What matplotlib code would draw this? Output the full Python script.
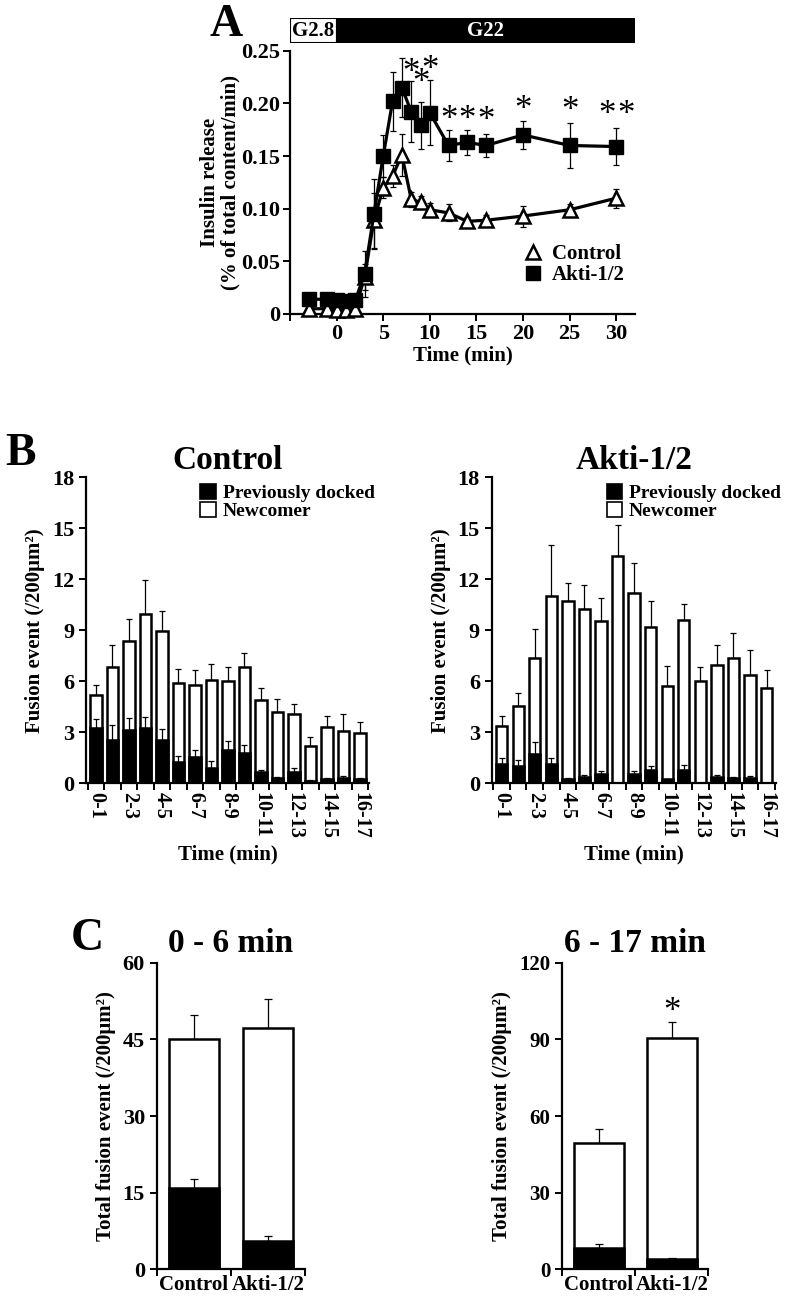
import numpy as np
import matplotlib.pyplot as plt
from matplotlib.lines import Line2D
from matplotlib.patches import Patch

plt.rcParams['font.family'] = ['Liberation Serif', 'DejaVu Serif']
plt.rcParams['font.weight'] = 'bold'
plt.rcParams['axes.titleweight'] = 'bold'
plt.rcParams['axes.labelweight'] = 'bold'
plt.rcParams['axes.linewidth'] = 1.6
plt.rcParams['xtick.major.width'] = 1.4
plt.rcParams['ytick.major.width'] = 1.4
plt.rcParams['xtick.direction'] = 'out'
plt.rcParams['ytick.direction'] = 'out'

# ---- panel A : insulin release ----
a_time = [-3, -1, 0, 1, 2, 3, 4, 5, 6, 7, 8, 9, 10, 12, 14, 16, 20, 25, 30]
a_ctrl = [0.005, 0.005, 0.004, 0.004, 0.005, 0.035, 0.089, 0.120, 0.131, 0.151,
          0.109, 0.106, 0.099, 0.096, 0.088, 0.089, 0.093, 0.099, 0.110]
a_ctrl_err = [0.002, 0.002, 0.002, 0.002, 0.002, 0.012, 0.026, 0.010, 0.010, 0.020,
              0.007, 0.006, 0.006, 0.008, 0.004, 0.005, 0.010, 0.005, 0.009]
a_akti = [0.014, 0.014, 0.013, 0.012, 0.013, 0.038, 0.095, 0.150, 0.202, 0.215,
          0.192, 0.179, 0.191, 0.160, 0.163, 0.160, 0.170, 0.160, 0.159]
a_akti_err = [0.003, 0.003, 0.003, 0.003, 0.003, 0.022, 0.033, 0.020, 0.028, 0.028,
              0.029, 0.022, 0.031, 0.015, 0.012, 0.011, 0.013, 0.021, 0.018]
a_star_x = [8, 9, 10, 12, 14, 16, 20, 25, 29, 31]
a_star_y = [0.235, 0.225, 0.238, 0.1905, 0.1905, 0.189, 0.200, 0.199, 0.195, 0.195]
a_xticks = [-5, 0, 5, 10, 15, 20, 25, 30]
a_xticklabels = ['', '0', '5', '10', '15', '20', '25', '30']
a_yticks = [0, 0.05, 0.10, 0.15, 0.20, 0.25]
a_yticklabels = ['0', '0.05', '0.10', '0.15', '0.20', '0.25']
phase_names = ['G2.8', 'G22']
phase_start = [-5, 0]
phase_end = [0, 32]

# ---- panel B : fusion events per minute ----
b_bins = ['0-1', '1-2', '2-3', '3-4', '4-5', '5-6', '6-7', '7-8', '8-9', '9-10',
          '10-11', '11-12', '12-13', '13-14', '14-15', '15-16', '16-17']
b_ctrl_total = [5.2, 6.86, 8.37, 9.96, 8.96, 5.92, 5.76, 6.08, 6.04, 6.84,
                4.90, 4.18, 4.08, 2.22, 3.29, 3.10, 2.98]
b_ctrl_total_err = [0.6, 1.3, 1.3, 2.0, 1.2, 0.8, 0.9, 0.95, 0.8, 0.85,
                    0.7, 0.8, 0.6, 0.5, 0.65, 1.0, 0.6]
b_ctrl_docked = [3.24, 2.55, 3.14, 3.27, 2.55, 1.27, 1.57, 0.92, 1.96, 1.80,
                 0.65, 0.33, 0.65, 0.14, 0.27, 0.31, 0.24]
b_ctrl_docked_err = [0.57, 0.9, 0.7, 0.63, 0.63, 0.33, 0.4, 0.4, 0.55, 0.45,
                     0.13, 0.05, 0.23, 0.03, 0.05, 0.1, 0.05]
b_akti_total = [3.39, 4.55, 7.37, 11.04, 10.73, 10.25, 9.53, 13.35, 11.18, 9.22,
                5.75, 9.59, 6.04, 6.96, 7.37, 6.37, 5.63]
b_akti_total_err = [0.57, 0.75, 1.7, 2.96, 1.05, 1.43, 1.37, 1.87, 1.78, 1.5,
                    1.15, 0.96, 0.82, 1.2, 1.47, 1.47, 1.02]
b_akti_docked = [1.12, 1.02, 1.73, 1.12, 0.24, 0.39, 0.53, 0.0, 0.53, 0.78,
                 0.23, 0.78, 0.0, 0.39, 0.29, 0.29, 0.02]
b_akti_docked_err = [0.35, 0.35, 0.68, 0.37, 0.05, 0.08, 0.2, 0.0, 0.2, 0.22,
                     0.05, 0.3, 0.0, 0.1, 0.1, 0.12, 0.02]
b_yticks = [0, 3, 6, 9, 12, 15, 18]

# ---- panel C : totals ----
c_groups = ['Control', 'Akti-1/2']
c_early_total = [45.1, 47.3]
c_early_total_err = [4.6, 5.5]
c_early_docked = [16.0, 5.54]
c_early_docked_err = [1.7, 1.0]
c_late_total = [49.4, 90.6]
c_late_total_err = [5.5, 6.3]
c_late_docked = [8.5, 3.9]
c_late_docked_err = [1.3, 0.4]
c_late_star = [1]
c_late_star_y = [103.4]

W, H = 787, 1300
fig = plt.figure(figsize=(W / 100, H / 100), dpi=100)


def box(l, t, r, b):
    # pixel box -> figure fraction
    return [l / W, 1 - b / H, (r - l) / W, (b - t) / H]


def clean(ax):
    ax.spines['top'].set_visible(False)
    ax.spines['right'].set_visible(False)


def star(ax, x, y):
    # glyph sits high in its box, nudge it down a bit
    ax.annotate('*', (x, y), xytext=(0, -5), textcoords='offset points',
                fontsize=25, fontweight='normal', ha='center', va='center', zorder=5)


# ================= A =================
axA = fig.add_axes(box(290, 50.7, 635, 314))
clean(axA)
axA.errorbar(a_time, a_ctrl, yerr=a_ctrl_err, fmt='none', ecolor='black',
             elinewidth=0.9, capsize=2.5, capthick=0.9, zorder=2)
axA.errorbar(a_time, a_akti, yerr=a_akti_err, fmt='none', ecolor='black',
             elinewidth=0.9, capsize=2.5, capthick=0.9, zorder=2)
axA.plot(a_time, a_ctrl, color='black', lw=2.3, marker='^', ms=10,
         mfc='white', mec='black', mew=1.8, zorder=3, clip_on=False)
axA.plot(a_time, a_akti, color='black', lw=2.3, marker='s', ms=10.5,
         mfc='black', mec='black', zorder=4, clip_on=False)
for x, y in zip(a_star_x, a_star_y):
    star(axA, x, y)
axA.set_xlim(-5, 32)
axA.set_ylim(0, 0.25)
axA.set_xticks(a_xticks)
axA.set_xticklabels(a_xticklabels, fontsize=16)
axA.set_yticks(a_yticks)
axA.set_yticklabels(a_yticklabels, fontsize=16)
axA.tick_params(length=5, pad=2)
axA.set_xlabel('Time (min)', fontsize=15, labelpad=1)
fig.text(210 / W, 1 - 182 / H, 'Insulin release', rotation=90, fontsize=15,
         ha='center', va='center')
fig.text(230 / W, 1 - 182 / H, '(% of total content/min)', rotation=90,
         fontsize=15, ha='center', va='center')
hA = [Line2D([], [], ls='none', marker='^', ms=10, mfc='white', mec='black', mew=1.8),
      Line2D([], [], ls='none', marker='s', ms=10.5, mfc='black', mec='black')]
axA.legend(hA, ['Control', 'Akti-1/2'], loc='lower right', bbox_to_anchor=(1.0, 0.07),
           frameon=False, fontsize=15, handlelength=1.0, handletextpad=0.4,
           labelspacing=0.05, borderpad=0)

axG = fig.add_axes(box(290, 18, 635, 43))
axG.set_xlim(-5, 32)
axG.set_ylim(0, 1)
axG.axis('off')
for i, (name, s, e) in enumerate(zip(phase_names, phase_start, phase_end)):
    fc = 'white' if i == 0 else 'black'
    tc = 'black' if i == 0 else 'white'
    axG.barh(0.5, e - s, left=s, height=1, color=fc, edgecolor='black', lw=1.5)
    axG.text((s + e) / 2, 0.5, name, color=tc, fontsize=15, ha='center', va='center')

fig.text(226 / W, 1 - 25 / H, 'A', fontsize=33, ha='center', va='center')


# ================= B =================
def fusion_panel(ax, title, total, total_err, docked, docked_err):
    clean(ax)
    x = np.arange(len(b_bins))
    ax.bar(x, total, width=0.68, color='white', edgecolor='black', lw=1.8, zorder=2)
    ax.bar(x, docked, width=0.68, color='black', edgecolor='black', lw=1.8, zorder=3)
    ax.errorbar(x, total, yerr=[np.zeros(len(x)), total_err], fmt='none',
                ecolor='black', elinewidth=0.9, capsize=2.5, capthick=0.9, zorder=1)
    ax.errorbar(x, docked, yerr=[np.zeros(len(x)), docked_err], fmt='none',
                ecolor='black', elinewidth=0.9, capsize=2.5, capthick=0.9, zorder=2.5)
    ax.set_xlim(-0.6, 16.55)
    ax.set_ylim(0, 18)
    ax.set_yticks(b_yticks)
    ax.set_yticklabels([str(v) for v in b_yticks], fontsize=16)
    ax.set_xticks(np.arange(-0.5, 17.0, 1.0))
    ax.set_xticklabels([])
    ax.set_xticks(x[::2], minor=True)
    ax.set_xticklabels(b_bins[::2], minor=True, rotation=-90, fontsize=14.5, va='top')
    ax.tick_params(axis='x', which='minor', length=0, pad=6)
    ax.tick_params(axis='both', which='major', length=5)
    ax.set_xlabel('Time (min)', fontsize=15, labelpad=4)
    ax.set_ylabel('Fusion event (/200μm²)', fontsize=15, labelpad=5)
    ax.set_title(title, fontsize=24, pad=6)
    hB = [Patch(facecolor='black', edgecolor='black', lw=1.2),
          Patch(facecolor='white', edgecolor='black', lw=1.2)]
    ax.legend(hB, ['Previously docked', 'Newcomer'], loc='upper left',
              bbox_to_anchor=(0.37, 1.01), frameon=False, fontsize=14,
              handlelength=0.8, handleheight=0.8, handletextpad=0.35,
              labelspacing=0.0, borderpad=0)


axB1 = fig.add_axes(box(86, 477.3, 369, 783.3))
fusion_panel(axB1, 'Control', b_ctrl_total, b_ctrl_total_err,
             b_ctrl_docked, b_ctrl_docked_err)
axB2 = fig.add_axes(box(491.7, 477.3, 775.7, 783.3))
fusion_panel(axB2, 'Akti-1/2', b_akti_total, b_akti_total_err,
             b_akti_docked, b_akti_docked_err)
fig.text(20 / W, 1 - 454 / H, 'B', fontsize=33, ha='center', va='center')


# ================= C =================
def total_panel(ax, title, total, total_err, docked, docked_err, ymax, star_idx, star_y, tfs):
    clean(ax)
    x = np.arange(len(c_groups)) + 0.5
    ax.bar(x, total, width=0.68, color='white', edgecolor='black', lw=1.8, zorder=2)
    ax.bar(x, docked, width=0.68, color='black', edgecolor='black', lw=1.8, zorder=3)
    ax.errorbar(x, total, yerr=[np.zeros(len(x)), total_err], fmt='none',
                ecolor='black', elinewidth=0.9, capsize=3, capthick=0.9, zorder=1)
    ax.errorbar(x, docked, yerr=[np.zeros(len(x)), docked_err], fmt='none',
                ecolor='black', elinewidth=0.9, capsize=3, capthick=0.9, zorder=2.5)
    for i, y in zip(star_idx, star_y):
        star(ax, x[i], y)
    ax.set_xlim(0, 2)
    ax.set_ylim(0, ymax)
    yt = np.linspace(0, ymax, 5)
    ax.set_yticks(yt)
    ax.set_yticklabels([str(int(v)) for v in yt], fontsize=tfs)
    ax.set_xticks([0, 1, 2])
    ax.set_xticklabels([])
    ax.set_xticks(x, minor=True)
    ax.set_xticklabels(c_groups, minor=True, fontsize=15)
    ax.tick_params(axis='x', which='minor', length=0, pad=4)
    ax.tick_params(axis='both', which='major', length=5)
    ax.set_ylabel('Total fusion event (/200μm²)', fontsize=15, labelpad=5)
    ax.set_title(title, fontsize=24, pad=8)


axC1 = fig.add_axes(box(156.7, 962.7, 305, 1269.3))
total_panel(axC1, '0 - 6 min', c_early_total, c_early_total_err,
            c_early_docked, c_early_docked_err, 60, [], [], 16)
axC2 = fig.add_axes(box(562.3, 962.7, 708.3, 1269.3))
total_panel(axC2, '6 - 17 min', c_late_total, c_late_total_err,
            c_late_docked, c_late_docked_err, 120, c_late_star, c_late_star_y, 15)
fig.text(87.5 / W, 1 - 939 / H, 'C', fontsize=33, ha='center', va='center')

fig.savefig('out.png', dpi=100, facecolor='white')
